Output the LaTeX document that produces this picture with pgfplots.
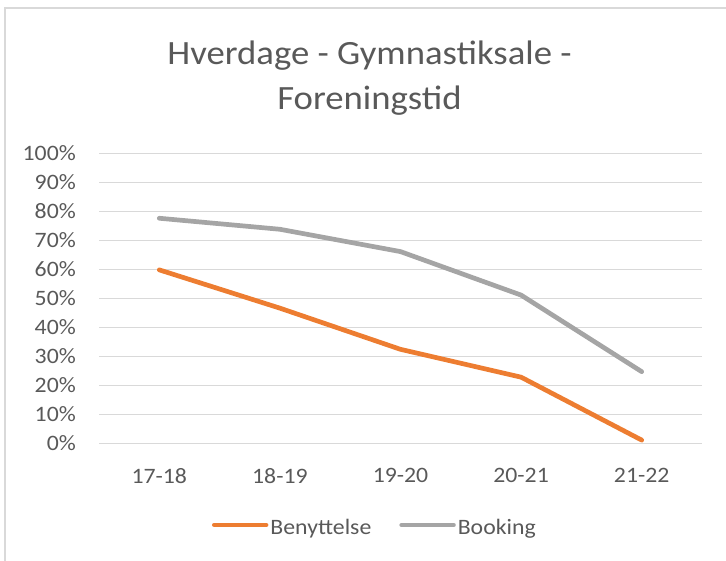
\documentclass[border=0pt]{standalone}
\usepackage{pgfplots}
\pgfplotsset{compat=1.18}
\usepackage{fontspec}
\setmainfont{Carlito}[FakeStretch=1.08]
\definecolor{borange}{HTML}{ED7D31}
\definecolor{bgray}{HTML}{A5A5A5}
\definecolor{txt}{HTML}{595959}
\definecolor{gridc}{HTML}{D9D9D9}
\begin{document}
\begin{tikzpicture}[x=1pt,y=1pt]
\useasboundingbox (0,0) rectangle (726,561);
\draw[gridc, line width=1.2pt] (5,0) -- (5,553) -- (726,553);
\node[anchor=base, text=txt, inner sep=0pt, font=\fontsize{34}{40}\selectfont] at (369.5,496) {Hverdage - Gymnastiksale -};
\node[anchor=base, text=txt, inner sep=0pt, font=\fontsize{34}{40}\selectfont] at (369.5,451) {Foreningstid};
\begin{axis}[
  at={(99pt,117.7pt)}, anchor=south west,
  scale only axis, width=603pt, height=290pt,
  xmin=-0.5, xmax=4.5, ymin=0, ymax=100,
  xtick={0,1,2,3,4},
  xticklabels={17-18,18-19,19-20,20-21,21-22},
  ytick={0,10,...,100},
  yticklabel={\pgfmathprintnumber{\tick}\%},
  /pgf/number format/assume math mode=true,
  axis line style={draw=none},
  ymajorgrids,
  major grid style={gridc, line width=1.2pt},
  major tick length=0pt,
  tick style={draw=none},
  ticklabel style={font=\fontsize{22}{26}\selectfont, text=txt, inner sep=0pt},
  yticklabel style={anchor=east},
  xticklabel style={anchor=north},
  yticklabel shift=23pt,
  xticklabel shift=25pt,
  legend columns=2,
  legend style={draw=none, fill=none, at={(axis description cs:0.187,-0.292)}, anchor=west,
    font=\fontsize{22}{26}\selectfont, text=txt, inner sep=0pt,
    /tikz/every even column/.append style={column sep=26pt},
    nodes={inner xsep=2pt, inner ysep=0pt}},
  legend image code/.code={\draw[#1, line width=4.5pt, line cap=round] (0pt,0.3em) -- (52pt,0.3em);},
]
\addplot[borange, line width=4.7pt, line cap=round, line join=round] coordinates {(0,59.8) (1,46.6) (2,32.4) (3,22.8) (4,1.1)};
\addlegendentry{Benyttelse}
\addplot[bgray, line width=4.7pt, line cap=round, line join=round] coordinates {(0,77.6) (1,73.8) (2,66.1) (3,51.1) (4,24.7)};
\addlegendentry{Booking}
\end{axis}
\end{tikzpicture}
\end{document}
